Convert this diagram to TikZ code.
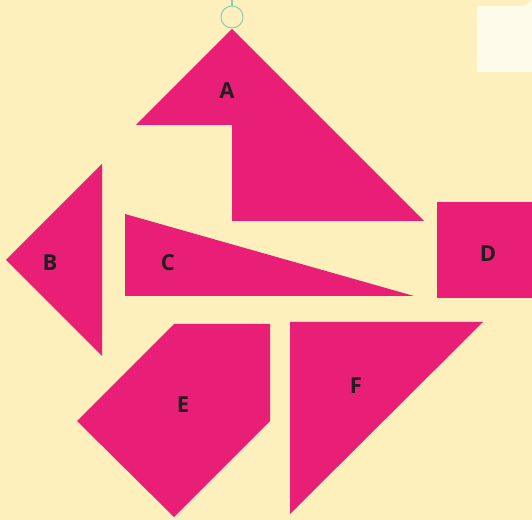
\documentclass[tikz,border=0pt]{standalone}
\usepackage{fontspec}
\setmainfont{Open Sans}
\usepackage{tikz}
\definecolor{paper}{HTML}{FEF0BD}
\definecolor{tanpink}{HTML}{E91E76}
\definecolor{cardwhite}{HTML}{FFFBEA}
\definecolor{hookgreen}{HTML}{8DCDB0}
\definecolor{letterink}{HTML}{231F20}

\begin{document}
\begin{tikzpicture}[x=0.75pt, y=-0.75pt,
    piece/.style={fill=tanpink},
    letter/.style={text=letterink, font=\fontsize{16.5}{16.5}\selectfont\bfseries}]

    % 背景
    \fill[paper] (0, 0) rectangle (532, 520);
    \useasboundingbox (0, 0) rectangle (532, 520);

    % 右上角的卡片
    \fill[cardwhite] (477, 6) -- (525, 6) -- (532, 0) -- (532, 72) -- (477, 72) -- cycle;

    % 挂钩
    \draw[hookgreen, thick] (232, 0) -- (232, 6);
    \draw[hookgreen, thick] (232, 17) circle (11);

    % A
    \fill[piece] (136, 125) -- (232, 29) -- (424, 221) -- (232, 221) -- (232, 125) -- cycle;
    \node[letter] (labA) at (227, 91) {A};

    % B
    \fill[piece] (6, 260) -- (102, 164) -- (102, 356) -- cycle;
    \node[letter] (labB) at (50, 263) {B};

    % C
    \fill[piece] (125, 214) -- (414, 296) -- (125, 296) -- cycle;
    \node[letter] (labC) at (168, 263) {C};

    % D
    \fill[piece] (437, 202) rectangle (532, 298);
    \node[letter] (labD) at (488, 254) {D};

    % E
    \fill[piece] (174, 324) -- (270, 324) -- (270, 421) -- (174, 517) -- (77, 421) -- cycle;
    \node[letter] (labE) at (183, 405) {E};

    % F
    \fill[piece] (290, 322) -- (483, 322) -- (290, 514) -- cycle;
    \node[letter] (labF) at (356, 386) {F};

  \end{tikzpicture}
\end{document}
